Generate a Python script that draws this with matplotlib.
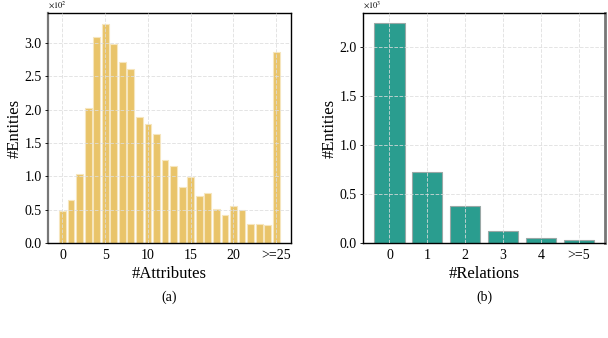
import matplotlib
matplotlib.use("Agg")
import matplotlib.pyplot as plt
import numpy as np

plt.rcParams['font.family'] = ['Liberation Serif', 'DejaVu Serif']
plt.rcParams['mathtext.fontset'] = 'stix'

attr_labels = ['0', '5', '10', '15', '20', '>=25']
attr_values = [0.48, 0.645, 1.03, 2.02, 3.09, 3.29, 2.99, 2.71, 2.61, 1.89,
               1.78, 1.63, 1.25, 1.16, 0.835, 0.995, 0.70, 0.745, 0.515, 0.42,
               0.55, 0.495, 0.285, 0.285, 0.265, 2.87]
rel_labels = ['0', '1', '2', '3', '4', '>=5']
rel_values = [2.245, 0.73, 0.373, 0.125, 0.05, 0.034]

yellow = '#E9C46A'
teal = '#2A9D8F'

fig = plt.figure(figsize=(6.08, 3.38), dpi=100)
ax1 = fig.add_axes([48/608, 95/338, 242.7/608, 230/338])
ax2 = fig.add_axes([363.3/608, 95/338, 241.7/608, 230/338])

x1 = np.arange(len(attr_values))
ax1.bar(x1, attr_values, width=0.8, color=yellow, edgecolor='#F6E6BE', linewidth=0.8, zorder=1)
ax1.set_xticks(np.arange(0, 26, 5))
ax1.set_xticklabels(attr_labels)
ax1.set_yticks([0.0, 0.5, 1.0, 1.5, 2.0, 2.5, 3.0])
ax1.set_yticklabels(['0.0', '0.5', '1.0', '1.5', '2.0', '2.5', '3.0'])
ax1.set_xlabel('#Attributes', fontsize=12, labelpad=3)
ax1.set_ylabel('#Entities', fontsize=12, labelpad=1.5)

x2 = np.arange(len(rel_values))
ax2.bar(x2, rel_values, width=0.8, color=teal, edgecolor='#9AA8A6', linewidth=0.8, zorder=1)
ax2.set_xticks(x2)
ax2.set_xticklabels(rel_labels)
ax2.set_yticks([0.0, 0.5, 1.0, 1.5, 2.0])
ax2.set_yticklabels(['0.0', '0.5', '1.0', '1.5', '2.0'])
ax2.set_xlabel('#Relations', fontsize=12, labelpad=3)
ax2.set_ylabel('#Entities', fontsize=12, labelpad=1.5)

ax1.set_ylim(0, 3.45)
ax2.set_ylim(0, 2.35)

for ax in (ax1, ax2):
    ax.grid(True, linestyle='--', color='#DDDDDD', linewidth=0.7, alpha=0.8, zorder=3)
    ax.set_axisbelow(False)
    ax.tick_params(axis='both', labelsize=10, length=2.5, width=0.6, pad=2)
    ax.tick_params(axis='x', length=0, pad=4)
    for s in ax.spines.values():
        s.set_linewidth(1.0)

ax1.spines['left'].set_color('#777777')
ax1.spines['left'].set_linewidth(1.6)
ax2.spines['right'].set_color('#777777')
ax2.spines['right'].set_linewidth(2.0)

ax1.text(0.0, 1.012, r'$\times10^{2}$', transform=ax1.transAxes, fontsize=6, ha='left', va='bottom')
ax2.text(0.0, 1.012, r'$\times10^{3}$', transform=ax2.transAxes, fontsize=6, ha='left', va='bottom')

fig.text(169/608, 1 - 297/338, '(a)', ha='center', va='center', fontsize=10)
fig.text(484/608, 1 - 297/338, '(b)', ha='center', va='center', fontsize=10)

fig.savefig('out.png', dpi=100)
